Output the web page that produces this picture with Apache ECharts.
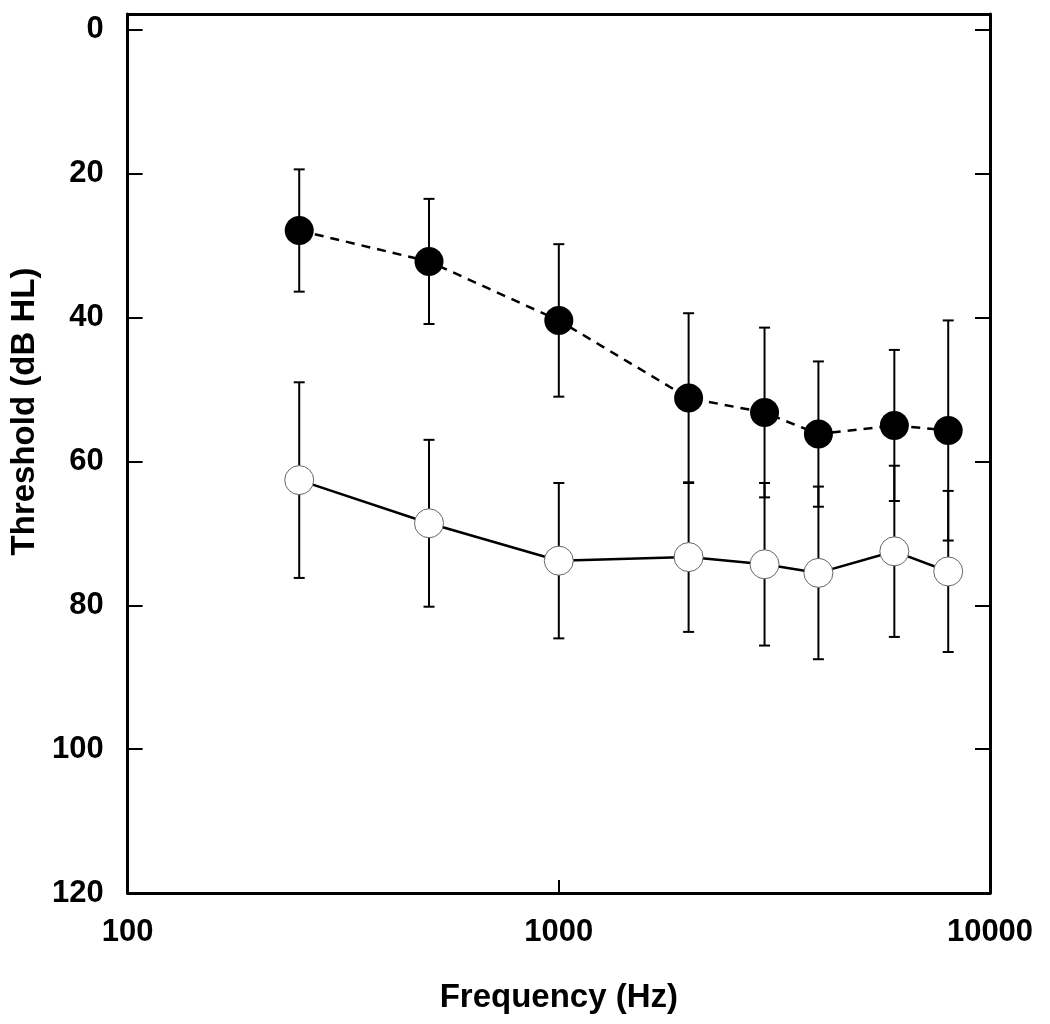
<!DOCTYPE html>
<html>
<head>
<meta charset="utf-8">
<script src="https://cdn.jsdelivr.net/npm/echarts@6/dist/echarts.min.js"></script>
<style>
  html, body { margin: 0; padding: 0; background: #fff; }
  #chart { width: 1050px; height: 1024px; }
</style>
</head>
<body>
<div id="chart"></div>
<script>
// frequencies (Hz)
const freqs = [250, 500, 1000, 2000, 3000, 4000, 6000, 8000];
// filled circles, dashed line: mean threshold and SD (dB HL)
const filledMean = [27.9, 32.2, 40.4, 51.2, 53.2, 56.2, 55.0, 55.7];
const filledSD = [8.5, 8.7, 10.6, 11.8, 11.8, 10.1, 10.5, 15.3];
// open circles, solid line
const openMean = [62.6, 68.6, 73.8, 73.3, 74.3, 75.5, 72.5, 75.3];
const openSD = [13.6, 11.6, 10.8, 10.4, 11.3, 12.0, 11.9, 11.2];
// tick values
const yTicks = [0, 20, 40, 60, 80, 100, 120];

const font = '"Liberation Sans", Arial, Helvetica, sans-serif';

function errData(means, sds) {
  return freqs.map((f, i) => [f, means[i] - sds[i], means[i] + sds[i]]);
}

function renderErr(params, api) {
  const x = api.value(0);
  const top = api.coord([x, api.value(1)]);
  const bot = api.coord([x, api.value(2)]);
  const cap = 5.5;
  const style = { stroke: '#000', lineWidth: 2 };
  return {
    type: 'group',
    children: [
      { type: 'line', shape: { x1: top[0], y1: top[1], x2: bot[0], y2: bot[1] }, style },
      { type: 'line', shape: { x1: top[0] - cap, y1: top[1], x2: top[0] + cap, y2: top[1] }, style },
      { type: 'line', shape: { x1: bot[0] - cap, y1: bot[1], x2: bot[0] + cap, y2: bot[1] }, style }
    ]
  };
}

const chart = echarts.init(document.getElementById('chart'));

const axisLine = { show: true, onZero: false, lineStyle: { color: '#000', width: 3 } };

chart.setOption({
  backgroundColor: '#fff',
  animation: false,
  grid: { left: 127, right: 60, top: 14, bottom: 131 },
  xAxis: [
    {
      type: 'log',
      logBase: 10,
      min: 100,
      max: 10000,
      position: 'bottom',
      axisLine,
      axisTick: { show: true, inside: true, length: 13, lineStyle: { color: '#000', width: 2 } },
      minorTick: { show: false },
      splitLine: { show: false },
      axisLabel: {
        color: '#000', fontFamily: font, fontWeight: 'bold', fontSize: 31, margin: 24,
        formatter: v => String(Math.round(v))
      },
      name: 'Frequency (Hz)',
      nameLocation: 'middle',
      nameGap: 88,
      nameTextStyle: { color: '#000', fontFamily: font, fontWeight: 'bold', fontSize: 33 }
    },
    {
      type: 'log',
      logBase: 10,
      min: 100,
      max: 10000,
      position: 'top',
      axisLine,
      axisTick: { show: false },
      axisLabel: { show: false },
      splitLine: { show: false }
    }
  ],
  yAxis: [
    {
      type: 'value',
      min: -2.2,
      max: 120,
      inverse: true,
      position: 'left',
      axisLine,
      axisTick: {
        show: true, inside: true, length: 15, customValues: yTicks,
        lineStyle: { color: '#000', width: 2 }
      },
      splitLine: { show: false },
      axisLabel: {
        color: '#000', fontFamily: font, fontWeight: 'bold', fontSize: 31, margin: 24,
        customValues: yTicks
      },
      name: 'Threshold (dB HL)',
      nameLocation: 'middle',
      nameRotate: 90,
      nameGap: 81,
      nameTextStyle: {
        color: '#000', fontFamily: font, fontWeight: 'bold', fontSize: 33,
        padding: [0, 0, 0, 84]
      }
    },
    {
      type: 'value',
      min: -2.2,
      max: 120,
      inverse: true,
      position: 'right',
      axisLine,
      axisTick: {
        show: true, inside: true, length: 15, customValues: yTicks,
        lineStyle: { color: '#000', width: 2 }
      },
      axisLabel: { show: false },
      splitLine: { show: false }
    }
  ],
  series: [
    {
      type: 'custom',
      renderItem: renderErr,
      data: errData(filledMean, filledSD),
      encode: { x: 0, y: [1, 2] },
      z: 1,
      silent: true
    },
    {
      type: 'custom',
      renderItem: renderErr,
      data: errData(openMean, openSD),
      encode: { x: 0, y: [1, 2] },
      z: 1,
      silent: true
    },
    {
      type: 'line',
      data: freqs.map((f, i) => [f, filledMean[i]]),
      symbol: 'circle',
      symbolSize: 29,
      itemStyle: { color: '#000', borderColor: '#000', borderWidth: 0 },
      lineStyle: { color: '#000', width: 2.5, type: [9, 7] },
      z: 3
    },
    {
      type: 'line',
      data: freqs.map((f, i) => [f, openMean[i]]),
      symbol: 'circle',
      symbolSize: 29,
      itemStyle: { color: '#fff', borderColor: '#666', borderWidth: 1 },
      lineStyle: { color: '#000', width: 2.5 },
      z: 3
    }
  ]
});
</script>
</body>
</html>
